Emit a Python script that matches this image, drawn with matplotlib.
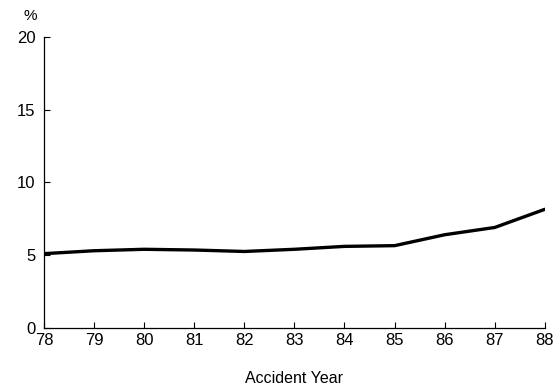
import matplotlib
matplotlib.use("Agg")
import matplotlib.pyplot as plt

plt.rcParams['font.family'] = ['Liberation Sans', 'DejaVu Sans']

years = [78, 79, 80, 81, 82, 83, 84, 85, 86, 87, 88]
rate = [5.1, 5.3, 5.4, 5.35, 5.25, 5.4, 5.6, 5.65, 6.4, 6.9, 8.15]
year_labels = [str(y) for y in years]
y_ticks = [0, 5, 10, 15, 20]

fig = plt.figure(figsize=(5.56, 3.88), dpi=100)
ax = fig.add_axes([0.079, 0.155, 0.901, 0.75])

ax.plot(years, rate, color="black", lw=2.4, solid_capstyle="round", solid_joinstyle="round")

ax.set_xlim(78, 88)
ax.set_ylim(0, 20)
ax.set_xticks(years)
ax.set_xticklabels(year_labels)
ax.set_yticks(y_ticks)
ax.tick_params(direction="in", length=4, width=0.8, labelsize=12)
ax.tick_params(axis="x", pad=4)
ax.tick_params(axis="y", pad=6)
for side in ("top", "right"):
    ax.spines[side].set_visible(False)
for side in ("left", "bottom"):
    ax.spines[side].set_linewidth(0.9)

ax.set_xlabel("Accident Year", fontsize=11.5, labelpad=16)
fig.text(0.055, 0.96, "%", fontsize=11, ha="center", va="center")

fig.savefig("out.png", dpi=100)
